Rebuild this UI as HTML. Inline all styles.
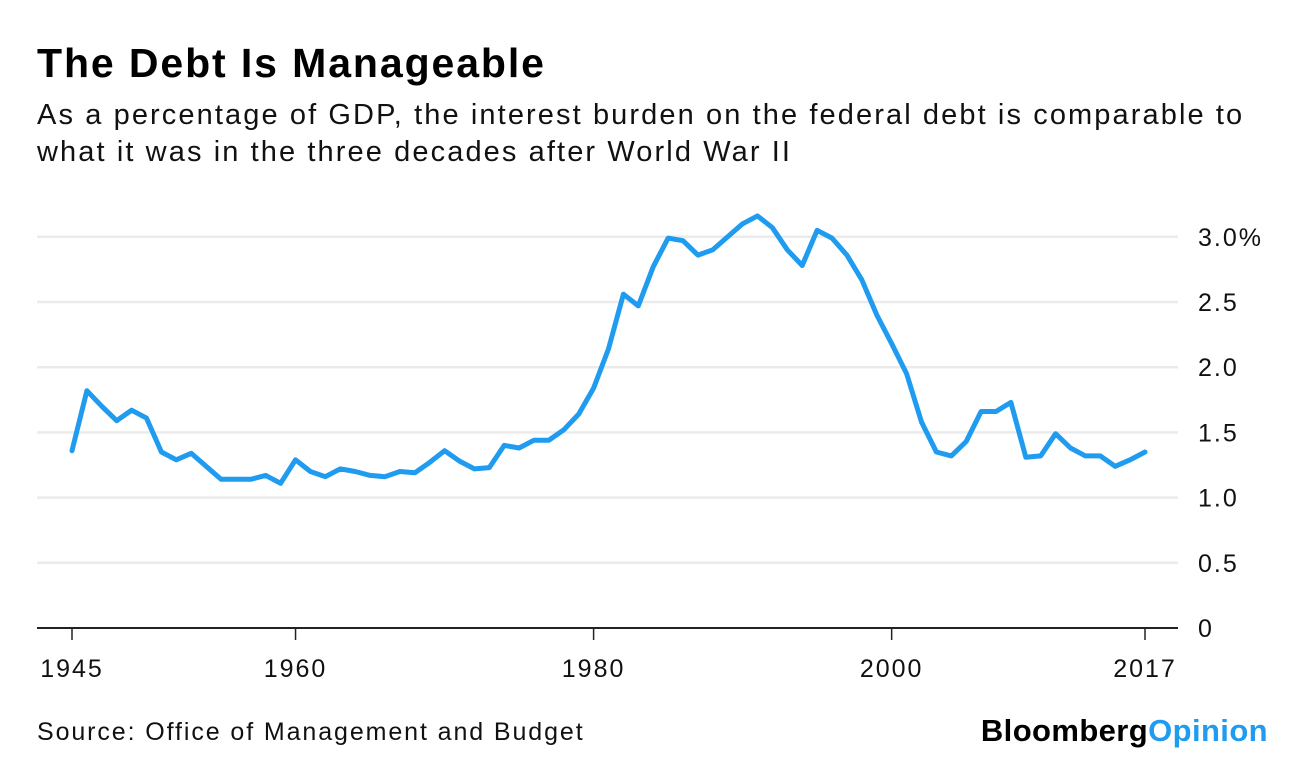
<!DOCTYPE html>
<html><head><meta charset="utf-8"><style>
body{margin:0;width:1296px;height:766px;background:#fff;font-family:"Liberation Sans",Arial,sans-serif;overflow:hidden;position:relative}
.t{position:absolute;left:37px;top:40px;font-size:41px;font-weight:bold;color:#000;letter-spacing:1.9px}
.s{position:absolute;left:37px;top:97px;font-size:29px;line-height:37px;color:#111;width:1240px;letter-spacing:2.1px}
.src{position:absolute;left:37px;top:718px;font-size:25px;color:#111;letter-spacing:1.9px}
.logo{position:absolute;right:28px;top:713px;font-size:31px;font-weight:bold;letter-spacing:0.4px;color:#000}
.logo span{color:#1f9bf0}
svg{position:absolute;left:0;top:0}
</style></head><body>
<div class="t">The Debt Is Manageable</div>
<div class="s">As a percentage of GDP, the interest burden on the federal debt is comparable to what it was in the three decades after World War II</div>
<svg id="c" width="1296" height="766"></svg>
<div class="src">Source: Office of Management and Budget</div>
<div class="logo">Bloomberg<span>Opinion</span></div>
<script>
const startYear=1945;
const values=[1.36,1.82,1.70,1.59,1.67,1.61,1.35,1.29,1.34,1.24,1.14,1.14,1.14,1.17,1.11,1.29,1.20,1.16,1.22,1.20,1.17,1.16,1.20,1.19,1.27,1.36,1.28,1.22,1.23,1.40,1.38,1.44,1.44,1.52,1.64,1.84,2.14,2.56,2.47,2.77,2.99,2.97,2.86,2.90,3.00,3.10,3.16,3.07,2.90,2.78,3.05,2.99,2.86,2.67,2.40,2.18,1.95,1.58,1.35,1.32,1.43,1.66,1.66,1.73,1.31,1.32,1.49,1.38,1.32,1.32,1.24,1.29,1.35];
const yTicks=[0,0.5,1.0,1.5,2.0,2.5,3.0];
const yTickLabels=["0","0.5","1.0","1.5","2.0","2.5","3.0%"];
const xTicks=[1945,1960,1980,2000,2017];
const NS="http://www.w3.org/2000/svg";
const svg=document.getElementById('c');
const x=yr=>72+(yr-1945)*(1145-72)/72;
const y=v=>628-v*130.4;
function mk(t,a){const e=document.createElementNS(NS,t);for(const k in a)e.setAttribute(k,a[k]);svg.appendChild(e);return e;}
yTicks.forEach((v,i)=>{
 if(v>0){const g=mk('line',{x1:37,x2:1178,y1:y(v),y2:y(v),stroke:'#ebebeb','stroke-width':2.5});
 
 }
 const t=mk('text',{x:1198,y:y(v)+9,'font-size':25,fill:'#111','letter-spacing':2,'font-family':'Liberation Sans, sans-serif'});
 t.textContent=yTickLabels[i];
 
 
});
const ax=mk('line',{x1:37,x2:1178,y1:628,y2:628,stroke:'#222','stroke-width':2});


xTicks.forEach((yr,i)=>{
 const tk=mk('line',{x1:x(yr),x2:x(yr),y1:628,y2:640,stroke:'#222','stroke-width':1.5});
 
 
 const t=mk('text',{x:x(yr),y:677,'font-size':25,fill:'#111','text-anchor':'middle','letter-spacing':2,'font-family':'Liberation Sans, sans-serif'});
 t.textContent=yr;
 
 
});
const pts=values.map((v,i)=>x(startYear+i).toFixed(1)+','+y(v).toFixed(1)).join(' ');
const line=mk('polyline',{points:pts,fill:'none',stroke:'#1f9bf0','stroke-width':5,'stroke-linejoin':'round','stroke-linecap':'round'});


</script>
</body></html>
